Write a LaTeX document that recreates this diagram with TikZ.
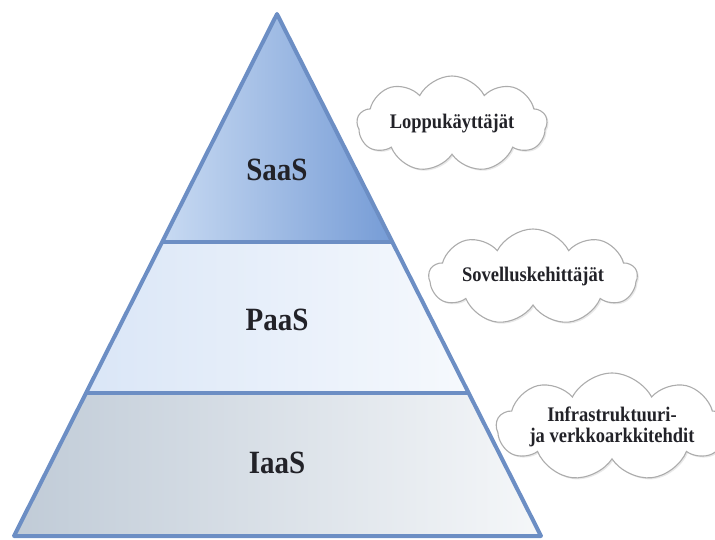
\documentclass[tikz,border=0pt]{standalone}
\usepackage{fontspec}
\usepackage{graphicx}
\setmainfont{Liberation Serif}
\usetikzlibrary{shapes.symbols,shadows}
\definecolor{edgeblue}{RGB}{108,142,196}
\definecolor{saasL}{RGB}{200,218,242}
\definecolor{saasR}{RGB}{118,156,214}
\definecolor{paasL}{RGB}{218,230,247}
\definecolor{paasR}{RGB}{246,249,253}
\definecolor{iaasL}{RGB}{192,203,215}
\definecolor{iaasR}{RGB}{245,247,249}
\definecolor{txt}{RGB}{34,34,40}
\newcommand{\talltext}[1]{\scalebox{1}[1.12]{#1}}
\tikzset{
  layer/.style={font=\fontsize{29}{30}\selectfont\bfseries, text=txt},
  bubble/.style={cloud, cloud puffs=9, cloud puff arc=125, cloud ignores aspect, draw=gray!65, line width=1.1pt, fill=white,
     drop shadow={opacity=0.18, shadow xshift=1.5pt, shadow yshift=-1.5pt},
     font=\fontsize{18.5}{21}\selectfont\bfseries, text=txt, align=center, inner sep=0pt},
  edge/.style={draw=edgeblue, line width=4pt, line join=round}
}
\begin{document}
\begin{tikzpicture}[x=1pt,y=-1pt]
\useasboundingbox (0,0) rectangle (715,540);
\coordinate (apex) at (277,14);
\coordinate (bl) at (14,536);
\coordinate (br) at (541,536);
\coordinate (l1) at (162.1,242);
\coordinate (r1) at (392.3,242);
\coordinate (l2) at (86.0,393);
\coordinate (r2) at (468.7,393);
% fills
\shade[left color=saasL, right color=saasR] (apex) -- (r1) -- (l1) -- cycle;
\shade[left color=paasL, right color=paasR] (l1) -- (r1) -- (r2) -- (l2) -- cycle;
\shade[left color=iaasL, right color=iaasR] (l2) -- (r2) -- (br) -- (bl) -- cycle;
% outlines
\draw[edge] (apex) -- (br) -- (bl) -- cycle;
\draw[edge] (l1) -- (r1);
\draw[edge] (l2) -- (r2);
% labels
\node[layer] (saas) at (277,170) {\talltext{SaaS}};
\node[layer] (paas) at (277,320) {\talltext{PaaS}};
\node[layer] (iaas) at (277,463) {\talltext{IaaS}};
% clouds
\node[bubble, minimum width=190pt, minimum height=96pt] (c1) at (452,124) {\talltext{Loppukäyttäjät}};
\node[bubble, minimum width=208pt, minimum height=96pt] (c2) at (533,277) {\talltext{Sovelluskehittäjät}};
\node[bubble, minimum width=218pt, minimum height=108pt] (c3) at (612,427) {\talltext{Infrastruktuuri-}\\\talltext{ja verkkoarkkitehdit}};
\end{tikzpicture}
\end{document}
